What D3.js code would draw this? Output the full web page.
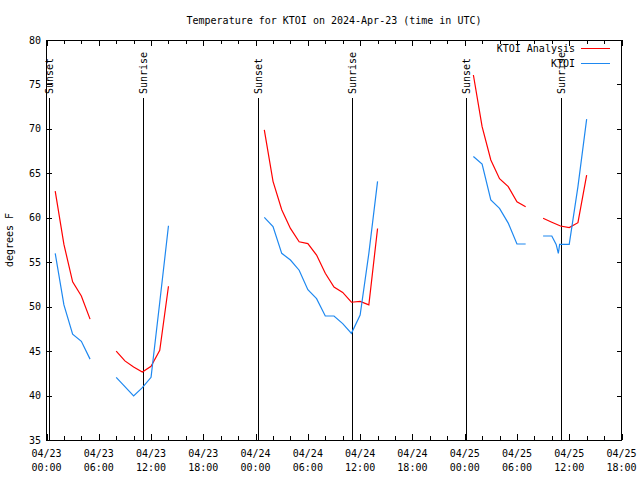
<!DOCTYPE html>
<html>
<head>
<meta charset="utf-8">
<script src="https://cdn.jsdelivr.net/npm/d3@7"></script>
<style>
  body { margin: 0; background: #fff; }
  svg text { font-family: "DejaVu Sans Mono", "Liberation Mono", monospace; font-size: 10px; fill: #000; }
</style>
</head>
<body>
<svg id="chart" width="640" height="480"></svg>
<script>
// ---- data (hours after 2024-04-23 00:00 UTC) ----
const startTime = Date.UTC(2024, 3, 23, 0, 0);
const endTime = Date.UTC(2024, 3, 25, 18, 0);

const analysisHours = d3.range(1, 63);
const analysisValues = [
  63.0, 57.0, 52.8, 51.2, 48.6,
  null, null,
  45.0, 43.9, 43.2, 42.65, 43.3, 45.1, 52.3,
  null, null, null, null, null, null, null, null, null, null,
  69.9, 64.1, 60.9, 58.8, 57.3, 57.1, 55.8, 53.75, 52.2, 51.6, 50.5, 50.6, 50.2, 58.8,
  null, null, null, null, null, null, null, null, null, null,
  76.06, 70.25, 66.5, 64.4, 63.5, 61.8, 61.25,
  null,
  59.95, 59.5, 59.07, 58.9, 59.45, 64.8
];

const obsHours = [
  1, 2, 3, 4, 5, 6,
  8, 9, 10, 11, 12, 13, 14, 15,
  25, 26, 27, 28, 29, 30, 31, 32, 33, 34, 35, 36, 37, 38, 39,
  49, 50, 51, 52, 53, 54, 55, 56,
  57, 58, 58.5, 58.75, 58.9, 60, 61, 62
];
const obsValues = [
  56.0, 50.2, 46.9, 46.1, 44.1, null,
  42.05, 41.0, 39.95, 40.9, 42.05, 50.5, 59.1, null,
  60.05, 59.0, 56.0, 55.25, 54.1, 51.9, 50.9, 48.95, 48.95, 48.1, 47.0, 49.06, 56.0, 64.1, null,
  66.9, 66.05, 62.0, 61.05, 59.4, 57.05, 57.05, null,
  57.95, 57.95, 57.0, 56.0, 57.0, 57.0, 63.5, 71.1
];

const sunEventHours = [0.25, 11.08, 24.25, 35.07, 48.2, 59.05];
const sunEventLabels = ["Sunset", "Sunrise", "Sunset", "Sunrise", "Sunset", "Sunrise"];

const yTicks = [35, 40, 45, 50, 55, 60, 65, 70, 75, 80];
const seriesNames = ["KTOI Analysis", "KTOI"];
const seriesColors = ["#ff0000", "#1e88f0"];
const titleText = "Temperature for KTOI on 2024-Apr-23 (time in UTC)";
const yLabel = "degrees F";

// ---- layout ----
const plotLeft = 46.5, plotRight = 621.5, plotTop = 40, plotBottom = 440;
const svg = d3.select("#chart");

const hourToDate = h => new Date(startTime + h * 3600000);
const x = d3.scaleUtc().domain([new Date(startTime), new Date(endTime)]).range([plotLeft, plotRight]);
const y = d3.scaleLinear().domain([35, 80]).range([plotBottom, plotTop]);

// title
svg.append("text").attr("x", 334).attr("y", 24).attr("text-anchor", "middle").text(titleText);

// y label
svg.append("text").attr("transform", "translate(13,240) rotate(-90)")
  .attr("text-anchor", "middle").text(yLabel);

// sunrise / sunset lines
const sunG = svg.append("g");
sunEventHours.forEach((h, i) => {
  const sx = Math.round(x(hourToDate(h))) + 0.5;
  sunG.append("line").attr("x1", sx).attr("x2", sx).attr("y1", 98).attr("y2", plotBottom)
    .attr("stroke", "#000").attr("stroke-width", 1).attr("shape-rendering", "crispEdges");
  sunG.append("text").attr("transform", `translate(${sx},94) rotate(-90)`)
    .attr("dy", "0.35em").attr("text-anchor", "start").text(sunEventLabels[i]);
});

// axes ticks (inward, on all four sides)
const allTicks = d3.utcHour.every(2).range(new Date(startTime), new Date(endTime + 1));
const majorTicks = d3.utcHour.every(6).range(new Date(startTime), new Date(endTime + 1));

const xAxisBottom = d3.axisBottom(x).tickValues(allTicks).tickSize(-4).tickFormat("");
const xAxisTop = d3.axisTop(x).tickValues(allTicks).tickSize(-4).tickFormat("");
const gB = svg.append("g").attr("transform", `translate(0,${plotBottom})`).call(xAxisBottom);
const gT = svg.append("g").attr("transform", `translate(0,${plotTop})`).call(xAxisTop);
[gB, gT].forEach(g => {
  g.select(".domain").remove();
  g.selectAll("line").attr("stroke", "#000").attr("shape-rendering", "crispEdges");
  g.selectAll(".tick").filter(d => d.getUTCHours() % 6 === 0)
    .select("line").attr("y2", g === gB ? -6 : 6);
});

const yAxisLeft = d3.axisLeft(y).tickValues(yTicks).tickSize(-5).tickFormat("");
const yAxisRight = d3.axisRight(y).tickValues(yTicks).tickSize(-5).tickFormat("");
[svg.append("g").attr("transform", `translate(${plotLeft},0)`).call(yAxisLeft),
 svg.append("g").attr("transform", `translate(${plotRight},0)`).call(yAxisRight)].forEach(g => {
  g.select(".domain").remove();
  g.selectAll("line").attr("stroke", "#000").attr("shape-rendering", "crispEdges");
});

// x tick labels
const fmtDate = d3.utcFormat("%m/%d"), fmtTime = d3.utcFormat("%H:%M");
const xl = svg.append("g");
majorTicks.forEach(d => {
  const t = xl.append("text").attr("x", x(d)).attr("text-anchor", "middle");
  t.append("tspan").attr("x", x(d)).attr("y", 457).text(fmtDate(d));
  t.append("tspan").attr("x", x(d)).attr("y", 471).text(fmtTime(d));
});

// y tick labels
yTicks.forEach(v => {
  svg.append("text").attr("x", 41).attr("y", y(v)).attr("dy", "0.35em")
    .attr("text-anchor", "end").text(v);
});

// border
svg.append("rect").attr("x", plotLeft).attr("y", plotTop + 0.5).attr("width", plotRight - plotLeft).attr("height", plotBottom - plotTop)
  .attr("fill", "none").attr("stroke", "#000").attr("shape-rendering", "crispEdges");

// series
const line = d3.line().defined(d => d[1] !== null).x(d => x(hourToDate(d[0]))).y(d => y(d[1]));
const analysisData = analysisHours.map((h, i) => [h, analysisValues[i]]);
const obsData = obsHours.map((h, i) => [h, obsValues[i]]);
[analysisData, obsData].forEach((data, i) => {
  svg.append("path").datum(data).attr("d", line)
    .attr("fill", "none").attr("stroke", seriesColors[i]).attr("stroke-width", 1.2);
});

// legend
seriesNames.forEach((name, i) => {
  const ly = 48 + i * 15;
  svg.append("text").attr("x", 575).attr("y", ly).attr("dy", "0.35em")
    .attr("text-anchor", "end").text(name);
  svg.append("line").attr("x1", 581).attr("x2", 610).attr("y1", ly + 0.5).attr("y2", ly + 0.5)
    .attr("stroke", seriesColors[i]).attr("stroke-width", 1).attr("shape-rendering", "crispEdges");
});
</script>
</body>
</html>
